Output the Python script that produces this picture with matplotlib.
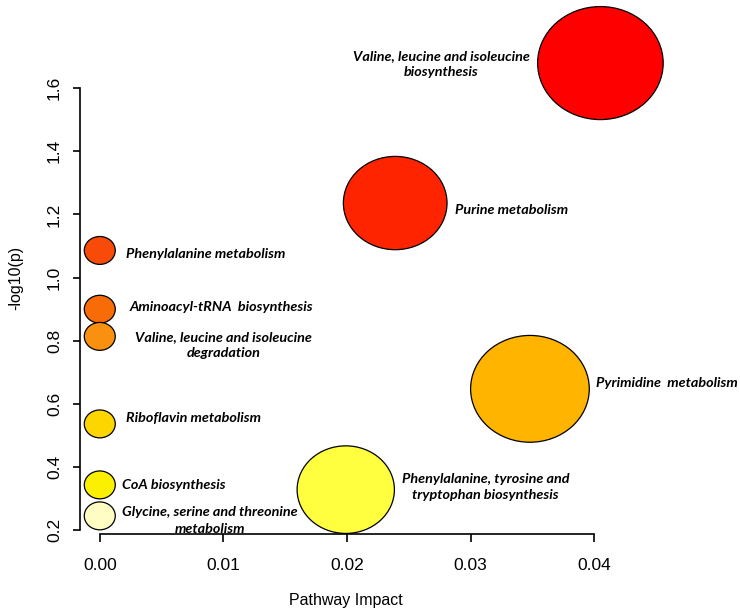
import numpy as np
import matplotlib
matplotlib.use("Agg")
import matplotlib.pyplot as plt
from matplotlib.collections import EllipseCollection

# pathway results, sorted by -log10(p) (highest first)
pathways = [
    "Valine, leucine and isoleucine\nbiosynthesis",
    "Purine metabolism",
    "Phenylalanine metabolism",
    "Aminoacyl-tRNA  biosynthesis",
    "Valine, leucine and isoleucine\ndegradation",
    "Pyrimidine  metabolism",
    "Riboflavin metabolism",
    "CoA biosynthesis",
    "Phenylalanine, tyrosine and\ntryptophan biosynthesis",
    "Glycine, serine and threonine\nmetabolism",
]
impact = [0.0405, 0.0239, 0.0, 0.0, 0.0, 0.0348, 0.0, 0.0, 0.0199, 0.0]
neg_log_p = [1.679, 1.236, 1.086, 0.900, 0.814, 0.648, 0.537, 0.344, 0.329, 0.246]

# heat colours by rank of p
colors = ["#FF0000", "#FF2400", "#F84A08", "#F86C08", "#FA9010",
          "#FFB400", "#FDD600", "#FBF000", "#FFFF40", "#FFFCC4"]

# label anchors (data coords)
label_x = [0.0276, 0.0333, 0.0086, 0.0098, 0.0100, 0.0459, 0.0076, 0.0060, 0.0312, 0.0089]
label_y = [1.676, 1.214, 1.075, 0.906, 0.786, 0.666, 0.555, 0.344, 0.338, 0.232]

W, H = 740, 615
fig = plt.figure(figsize=(W / 100, H / 100), dpi=100)
ax = fig.add_axes([80 / W, (H - 534) / H, 534 / W, 512 / H])
ax.set_xlim(-0.0016, 0.0416)
ax.set_ylim(0.1886, 1.809)

# bubble size grows with sqrt(impact); picture is a bit wider than tall
diam = 31 + 470 * np.sqrt(np.array(impact))
bubbles = EllipseCollection(diam, diam * 0.9, np.zeros(len(diam)), units="dots",
                            offsets=np.column_stack([impact, neg_log_p]),
                            offset_transform=ax.transData,
                            facecolors=colors, edgecolors="black", linewidths=0.9)
bubbles.set_clip_on(False)
ax.add_collection(bubbles)

for name, lx, ly in zip(pathways, label_x, label_y):
    ax.text(lx, ly, name, ha="center", va="center", fontsize=10.4,
            family="Lato", weight="bold", style="italic", linespacing=1.45,
            clip_on=False)

# R-like axes
for s in ["top", "right"]:
    ax.spines[s].set_visible(False)
ax.spines["left"].set_bounds(0.2, 1.6)
ax.spines["bottom"].set_bounds(0.0, 0.04)
for s in ["left", "bottom"]:
    ax.spines[s].set_linewidth(1.2)

ax.set_xticks([0.0, 0.01, 0.02, 0.03, 0.04])
ax.set_xticklabels(["0.00", "0.01", "0.02", "0.03", "0.04"])
ax.set_yticks([0.2, 0.4, 0.6, 0.8, 1.0, 1.2, 1.4, 1.6])
ax.set_yticklabels(["0.2", "0.4", "0.6", "0.8", "1.0", "1.2", "1.4", "1.6"])
ax.tick_params(axis="x", length=6, width=1.2, pad=11, labelsize=12.5)
ax.tick_params(axis="y", length=5, width=1.2, pad=8, labelsize=12.5, labelrotation=90)
for lab in ax.get_xticklabels() + ax.get_yticklabels():
    lab.set_family("Liberation Sans")
for lab in ax.get_yticklabels():
    lab.set_va("center")

fig.text(346 / W, 1 - 601 / H, "Pathway Impact", ha="center", va="center",
         fontsize=11.5, family="Liberation Sans")
fig.text(16 / W, 1 - 278 / H, "-log10(p)", ha="center", va="center",
         rotation=90, fontsize=11.5, family="Liberation Sans")

fig.savefig("out.png", dpi=100, facecolor="white")
